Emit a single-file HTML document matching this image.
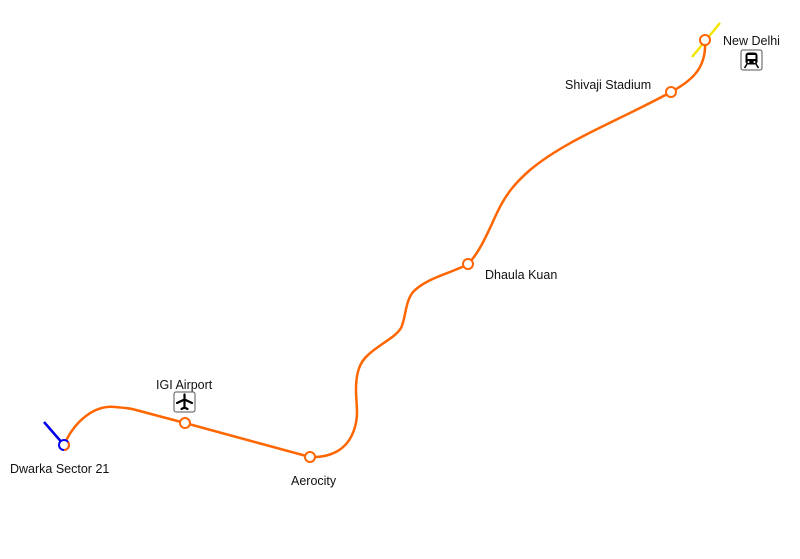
<!DOCTYPE html>
<html><head><meta charset="utf-8"><style>
html,body{margin:0;padding:0;background:#fff;width:800px;height:559px;overflow:hidden}
text{font-family:"Liberation Sans",sans-serif;font-size:12.5px;fill:#111}
</style></head><body>
<svg width="800" height="559" viewBox="0 0 800 559" xmlns="http://www.w3.org/2000/svg">
<line x1="44" y1="422" x2="64" y2="445" stroke="#0000ee" stroke-width="2.5"/>
<line x1="692" y1="57" x2="720" y2="23" stroke="#f5e400" stroke-width="2.5"/>
<path d="M64,445 C75,420 95,405 115,407 C125,408 130,408 136,410 L185,423 L310,457
 C330,458 345,450 352,435 C360,418 356,405 356,390 C356,372 360,362 368,355
 C378,345 395,338 401,328 C406,318 405,300 414,291 C424,281 440,276 455,270 C462,267 465,266 468,264
 C480,252 488,232 496,215 C505,195 515,183 530,170 C560,145 600,128 640,108 C652,102 662,97 671,92
 C690,81 707,70 705,40"
 fill="none" stroke="#ff6600" stroke-width="2.5"/>
<g fill="#fff" stroke="#ff6600" stroke-width="2">
<circle cx="185" cy="423" r="5"/>
<circle cx="310" cy="457" r="5"/>
<circle cx="468" cy="264" r="5"/>
<circle cx="671" cy="92" r="5"/>
<circle cx="705" cy="40" r="5"/>
</g>
<circle cx="64" cy="445" r="5" fill="#fff" stroke="#0000ee" stroke-width="2"/>
<path d="M68,442 A5,5 0 0 1 64,450" fill="none" stroke="#ff6600" stroke-width="2"/>
<text x="10" y="473">Dwarka Sector 21</text>
<text x="156" y="389">IGI Airport</text>
<text x="291" y="485">Aerocity</text>
<text x="485" y="279">Dhaula Kuan</text>
<text x="565" y="89">Shivaji Stadium</text>
<text x="723" y="45">New Delhi</text>
<rect x="174" y="392" width="21" height="20" rx="2" fill="#fff" stroke="#555" stroke-width="1"/>
<path d="M184.5,394.5 L184.5,408 M177,403 L184.5,399.5 L192,403 M181.5,409 L184.5,407.5 L187.5,409" stroke="#000" stroke-width="2.2" fill="none" stroke-linecap="round"/>
<rect x="741" y="50" width="21" height="20" rx="2" fill="#fff" stroke="#555" stroke-width="1"/>
<rect x="745.5" y="52.5" width="12" height="12" rx="3" fill="#000"/>
<rect x="747.5" y="55" width="8" height="4" fill="#fff"/>
<circle cx="748.5" cy="62" r="1" fill="#fff"/><circle cx="754.5" cy="62" r="1" fill="#fff"/>
<path d="M747,64 L744.5,68 M756,64 L758.5,68" stroke="#000" stroke-width="1.5"/>
</svg>
</body></html>
